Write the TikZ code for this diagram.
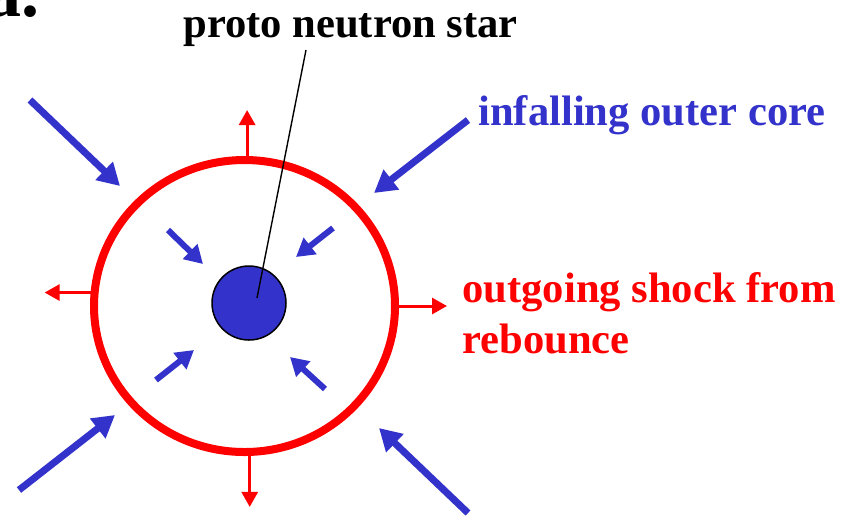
\documentclass[tikz,border=0pt]{standalone}
\usepackage{fontspec}
\setmainfont{Liberation Serif}
\usetikzlibrary{arrows.meta,shapes.geometric}
\definecolor{coreblue}{RGB}{51,51,204}
\definecolor{shockred}{RGB}{255,0,0}

\begin{document}
\begin{tikzpicture}[x=0.5pt,y=-0.5pt,
    labeltext/.style={font=\fontsize{21.3}{25.5}\selectfont\bfseries, inner sep=0pt},
    infall/.style={draw=coreblue, line width=3.5pt, -{Triangle[length=11pt,width=12pt]}},
    infallin/.style={draw=coreblue, line width=3pt, -{Triangle[length=9pt,width=10pt]}},
    outflow/.style={draw=shockred, line width=1.5pt, -{Triangle[length=7.5pt,width=8pt]}}]
  \useasboundingbox (0,0) rectangle (861,516);
  % cut-off heading from the slide above
  \node (frag) [font=\fontsize{36}{40}\selectfont\bfseries, anchor=base east, inner sep=0pt] at (40,16) {a.};
  % --- Shock front and proto neutron star ---
  \node (shock) [ellipse, draw=shockred, line width=4pt, minimum width=150.5pt,
    minimum height=146pt, inner sep=0pt] at (244.5,306) {};
  \node (core) [circle, fill=coreblue, draw=black, line width=0.75pt,
    minimum size=37pt, inner sep=0pt] at (249,303) {};
  % Outgoing shock: short red arrows on the front.
  \foreach \ang/\dx/\dy in {89/0/-46, 175/-46/0, 0/48/0, -88/0/51}
    \draw[outflow] (shock.\ang) -- ++(\dx,\dy);
  % Infalling matter: outside and inside the shock.
  \foreach \sx/\sy/\tx/\ty in {30/100/120/186, 468/120/374/193, 19/490/115/415, 468/513/379/428}
    \draw[infall] (\sx,\sy) -- (\tx,\ty);
  \foreach \sx/\sy/\tx/\ty in {168/230/203/264, 333/228/296/257, 156/380/194/350, 325/389/290/357}
    \draw[infallin] (\sx,\sy) -- (\tx,\ty);
  % --- Labels ---
  \node (pns) [labeltext, anchor=base west] at (183,37) {proto neutron star};
  \node (outer) [labeltext, text=coreblue, anchor=base west] at (478,125) {infalling outer core};
  \node (outshock) [labeltext, text=shockred, anchor=base west, align=left] at (462,353)
    {outgoing shock from\\rebounce};
  \coordinate (pnstail) at (306,50);
  \coordinate (pnshead) at (257,298);
  \draw[line width=0.7pt] (pnstail) -- (pnshead);
\end{tikzpicture}
\end{document}
